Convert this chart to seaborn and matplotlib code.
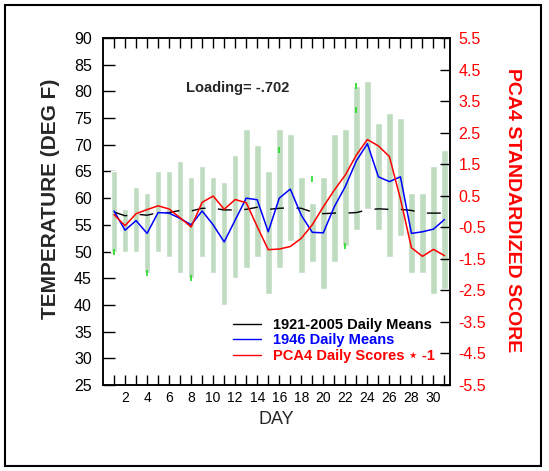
import matplotlib
matplotlib.use("Agg")
import matplotlib.pyplot as plt
from matplotlib.lines import Line2D
from matplotlib.patches import Rectangle
import seaborn as sns
import pandas as pd

# ---- data ----
days = list(range(1, 32))
range_low = [50, 50, 50, 46, 50, 49, 46, 45, 49, 46, 40, 45, 47, 49, 42, 47,
             52, 46, 48, 43, 48, 51, 54, 58, 54, 49, 53, 46, 46, 42, 43]
range_high = [65, 58, 62, 61, 65, 65, 67, 64, 66, 64, 63, 68, 73, 70, 65, 73,
              72, 64, 59, 64, 72, 73, 81, 82, 74, 76, 75, 61, 61, 66, 69]
clim_means = [57.4, 56.7, 57.0, 56.8, 57.3, 57.3, 57.7, 57.6, 58.1, 58.1, 57.8,
              57.8, 57.9, 58.3, 57.9, 58.1, 58.2, 58.1, 57.4, 57.1, 57.2, 57.2,
              57.3, 57.8, 58.0, 57.9, 57.9, 57.7, 57.2, 57.2, 57.2]
means_1946 = [57.6, 54.0, 55.8, 53.4, 57.3, 57.2, 56.2, 55.0, 57.6, 55.0, 51.8,
              55.9, 60.0, 59.7, 53.7, 60.0, 61.7, 56.8, 53.6, 53.5, 58.4, 62.2,
              67.0, 70.2, 64.0, 63.1, 64.0, 53.4, 53.7, 54.2, 56.0]
pca4_scores = [-0.1, -0.45, -0.07, 0.06, 0.18, 0.08, -0.2, -0.49, 0.29, 0.49,
               0.07, 0.38, 0.28, -0.48, -1.21, -1.19, -1.11, -0.85, -0.42, 0.15,
               0.68, 1.16, 1.79, 2.28, 2.08, 1.74, 0.4, -1.15, -1.42, -1.2, -1.4]
green_days = [1, 4, 8, 16, 19, 22, 23, 23]
green_vals = [50, 46, 45, 69, 63.5, 51, 81, 76.5]

x_ticks = list(range(1, 32))
x_labels = [str(d) if d % 2 == 0 else "" for d in x_ticks]
left_ticks = list(range(25, 91, 5))
right_ticks = [-5.5, -4.5, -3.5, -2.5, -1.5, -0.5, 0.5, 1.5, 2.5, 3.5, 4.5, 5.5]

df = pd.DataFrame({"day": days, "low": range_low, "high": range_high,
                   "clim": clim_means, "m1946": means_1946, "pca": pca4_scores})

sns.set_theme(style="white")
plt.rcParams["font.family"] = ["Liberation Sans", "DejaVu Sans"]

fig = plt.figure(figsize=(5.49, 4.71), dpi=100)
ax = fig.add_axes([103 / 549, 1 - 385 / 471, 347 / 549, 347 / 471])

ax.bar(df["day"], df["high"] - df["low"], bottom=df["low"], width=0.6,
       color="#bfdcc0", zorder=1)
ax.scatter(green_days, green_vals, marker="|", s=25, color="#22dd22",
           linewidths=1.2, zorder=2)

sns.lineplot(data=df, x="day", y="clim", ax=ax, color="black", lw=1.0, zorder=3)
ax.lines[-1].set_dashes((10, 9))
sns.lineplot(data=df, x="day", y="m1946", ax=ax, color="#0000ff", lw=1.1, zorder=4)

ax.set_xlim(0, 31.5)
ax.set_ylim(25, 90)
ax.set_xticks(x_ticks)
ax.set_xticklabels(x_labels, fontsize=10)
ax.set_yticks(left_ticks)
ax.set_yticklabels([str(t) for t in left_ticks], fontsize=11.5)
ax.tick_params(axis="x", direction="in", length=7, width=1, top=True,
               bottom=True, pad=4, colors="black")
ax.tick_params(axis="y", direction="in", length=8.5, width=1, left=True,
               right=False, pad=8, colors="black")
ax.set_xlabel("DAY", fontsize=13, labelpad=5)
ax.set_ylabel("")
for s in ax.spines.values():
    s.set_color("black")
    s.set_linewidth(1.1)

ax.text(7.5, 80.6, "Loading= -.702", fontsize=10.5, fontweight="bold",
        va="center", ha="left")

ax2 = ax.twinx()
sns.lineplot(data=df, x="day", y="pca", ax=ax2, color="#ff0000", lw=1.1, zorder=5)
ax2.set_ylim(-5.5, 5.5)
ax2.set_yticks(right_ticks)
ax2.set_yticklabels([f"{t:.1f}" for t in right_ticks], fontsize=11.5, color="red")
ax2.tick_params(axis="y", direction="in", length=7, width=1, right=True,
                left=False, pad=6, labelcolor="red", color="black")
ax2.set_ylabel("")
ax2.set_xlabel("")
for s in ax2.spines.values():
    s.set_color("black")
    s.set_linewidth(1.1)
ax2.set_xlim(0, 31.5)

handles = [Line2D([], [], color="black", lw=1),
           Line2D([], [], color="#0000ff", lw=1),
           Line2D([], [], color="#ff0000", lw=1)]
labels = ["1921-2005 Daily Means", "1946 Daily Means", "PCA4 Daily Scores \u22c6 -1"]
leg = ax2.legend(handles, labels, loc="upper left", bbox_to_anchor=(0.355, 0.215),
                 frameon=False, borderpad=0, handlelength=1.9, handletextpad=0.8,
                 labelspacing=0.12, prop={"weight": "bold", "size": 10.5},
                 labelcolor=["black", "#0000ff", "#ff0000"])

fig.text(51 / 549, 1 - 199 / 471, "TEMPERATURE (DEG F)", rotation=90,
         fontsize=15, fontweight="bold", ha="center", va="center")
fig.text(512 / 549, 1 - 210 / 471, "PCA4 STANDARDIZED SCORE", rotation=-90,
         fontsize=14, fontweight="bold", color="red", ha="center", va="center")

fig.patches.append(Rectangle((5 / 549, 5 / 471), 536 / 549, 461 / 471,
                             transform=fig.transFigure, fill=False,
                             ec="black", lw=1.5))

fig.savefig("out.png", dpi=100, facecolor="white")
